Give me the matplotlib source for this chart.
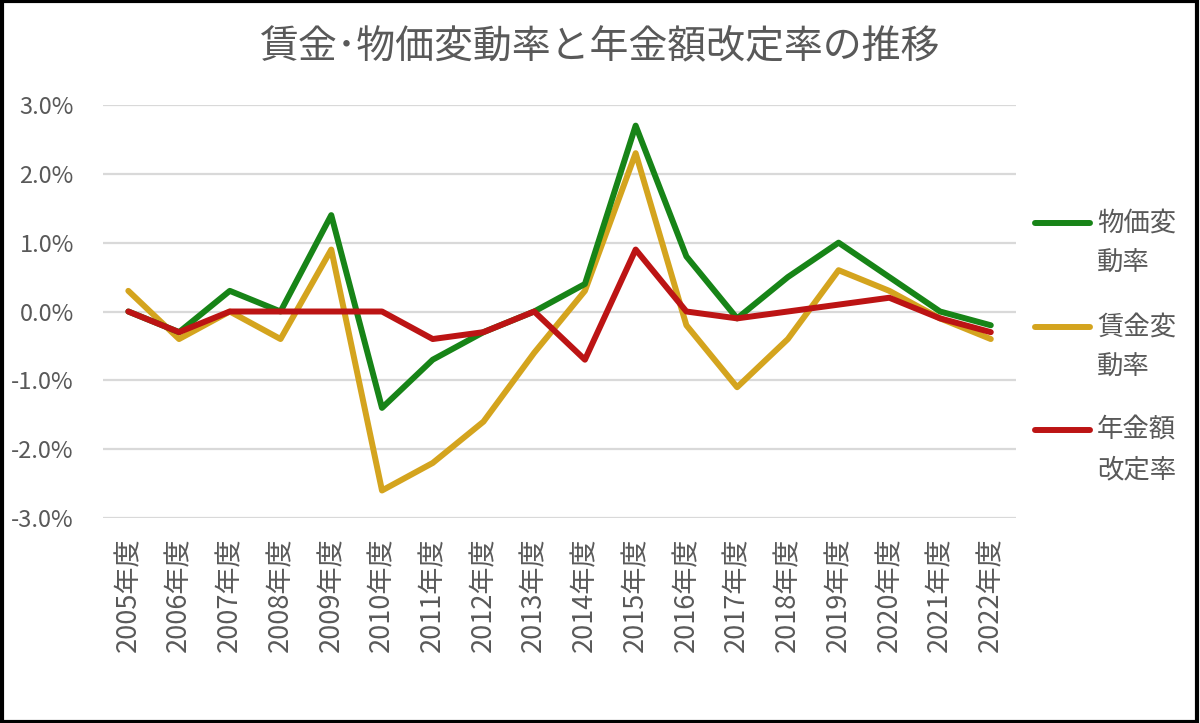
import matplotlib
matplotlib.use("Agg")
import matplotlib.pyplot as plt
from matplotlib.lines import Line2D
from matplotlib.patches import Rectangle
from matplotlib.ticker import FuncFormatter

plt.rcParams['font.family'] = ['Noto Sans CJK JP', 'DejaVu Sans']

years = ["2005年度", "2006年度", "2007年度", "2008年度", "2009年度", "2010年度",
         "2011年度", "2012年度", "2013年度", "2014年度", "2015年度", "2016年度",
         "2017年度", "2018年度", "2019年度", "2020年度", "2021年度", "2022年度"]
price = [0.0, -0.3, 0.3, 0.0, 1.4, -1.4, -0.7, -0.3, 0.0, 0.4, 2.7, 0.8,
         -0.1, 0.5, 1.0, 0.5, 0.0, -0.2]
wage = [0.3, -0.4, 0.0, -0.4, 0.9, -2.6, -2.2, -1.6, -0.6, 0.3, 2.3, -0.2,
        -1.1, -0.4, 0.6, 0.3, -0.1, -0.4]
pension = [0.0, -0.3, 0.0, 0.0, 0.0, 0.0, -0.4, -0.3, 0.0, -0.7, 0.9, 0.0,
           -0.1, 0.0, 0.1, 0.2, -0.1, -0.3]
series_names = ["物価変\n動率", "賃金変\n動率", "年金額\n改定率"]
colors = ["#178417", "#D4A41E", "#BC1414"]
title = "賃金･物価変動率と年金額改定率の推移"
yticks = [-3, -2, -1, 0, 1, 2, 3]

TXT = '#595959'

fig = plt.figure(figsize=(12, 7.23), dpi=100)
ax = fig.add_axes([0.0858, 0.2835, 0.761, 0.5713])

x = list(range(len(years)))
ax.plot(x, wage, color=colors[1], lw=4.3, solid_capstyle='round', solid_joinstyle='round', zorder=3)
ax.plot(x, price, color=colors[0], lw=4.3, solid_capstyle='round', solid_joinstyle='round', zorder=4)
ax.plot(x, pension, color=colors[2], lw=4.3, solid_capstyle='round', solid_joinstyle='round', zorder=5)

ax.set_xlim(-0.5, len(years) - 0.5)
ax.set_ylim(-3, 3)
ax.set_yticks(yticks)
ax.yaxis.set_major_formatter(FuncFormatter(lambda v, p: f"{v:.1f}%"))
ax.set_xticks(x)
ax.set_xticklabels(years, rotation=90, va='top', ha='center')
ax.grid(axis='y', color='#D9D9D9', lw=1.6)
ax.set_axisbelow(True)
for s in ax.spines.values():
    s.set_visible(False)
ax.tick_params(axis='both', length=0, colors=TXT)
ax.tick_params(axis='y', pad=21, labelsize=17)
ax.tick_params(axis='x', pad=14, labelsize=19.5)

fig.text(0.5, 0.934, title, ha='center', va='center', fontsize=28, color=TXT)

# legend
leg_y = [223, 327, 430]
for name, c, yy in zip(series_names, colors, leg_y):
    yf = 1 - yy / 723
    fig.add_artist(Line2D([1035 / 1200, 1090 / 1200], [yf, yf], color=c, lw=4.3,
                          solid_capstyle='round', transform=fig.transFigure))
    for k, part in enumerate(name.split("\n")):
        fig.text(1097 / 1200, 1 - (yy + 40 * k) / 723, part, ha='left', va='center',
                 fontsize=19, color=TXT)

fig.add_artist(Rectangle((0.0015, 0.002), 0.996, 0.996, transform=fig.transFigure,
                         fill=False, edgecolor='black', lw=3))

fig.savefig("out.png", dpi=100, facecolor='white')
